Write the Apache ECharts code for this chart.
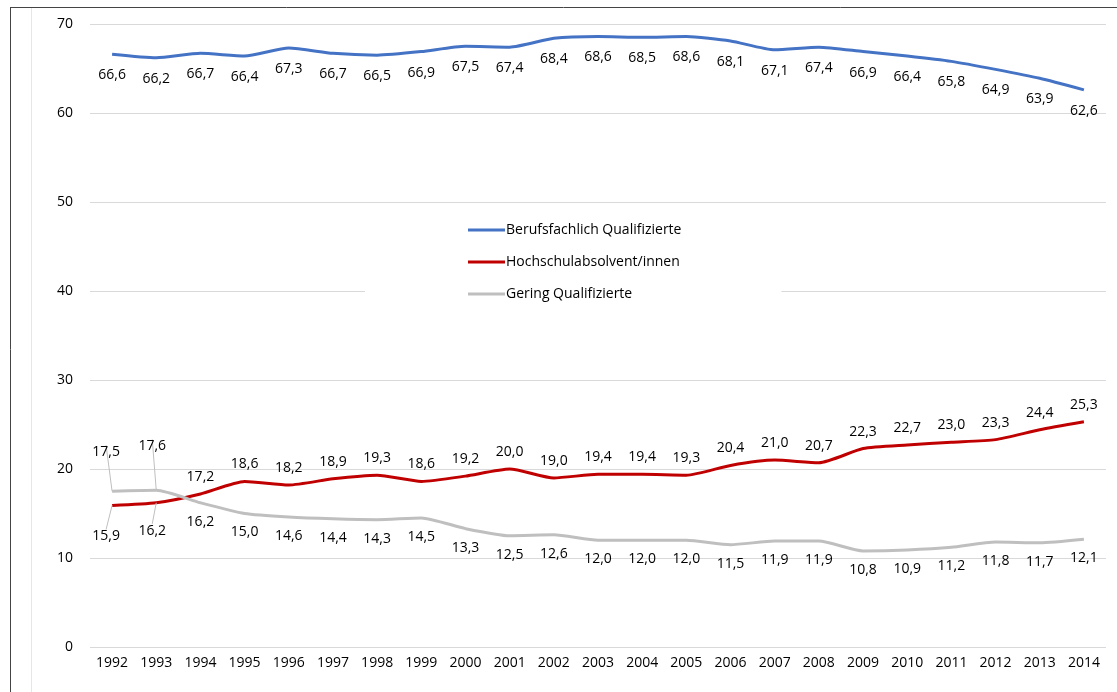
<!DOCTYPE html>
<html>
<head>
<meta charset="utf-8">
<script src="https://cdn.jsdelivr.net/npm/echarts@6/dist/echarts.min.js"></script>
<style>
  html, body { margin: 0; padding: 0; background: #fff; }
  #chart { width: 1117px; height: 692px; }
</style>
</head>
<body>
<div id="chart"></div>
<script>
const years = ["1992", "1993", "1994", "1995", "1996", "1997", "1998", "1999", "2000", "2001", "2002", "2003", "2004", "2005", "2006", "2007", "2008", "2009", "2010", "2011", "2012", "2013", "2014"];
const berufsfachlich = [66.6, 66.2, 66.7, 66.4, 67.3, 66.7, 66.5, 66.9, 67.5, 67.4, 68.4, 68.6, 68.5, 68.6, 68.1, 67.1, 67.4, 66.9, 66.4, 65.8, 64.9, 63.9, 62.6];
const hochschule = [15.9, 16.2, 17.2, 18.6, 18.2, 18.9, 19.3, 18.6, 19.2, 20.0, 19.0, 19.4, 19.4, 19.3, 20.4, 21.0, 20.7, 22.3, 22.7, 23.0, 23.3, 24.4, 25.3];
const gering = [17.5, 17.6, 16.2, 15.0, 14.6, 14.4, 14.3, 14.5, 13.3, 12.5, 12.6, 12.0, 12.0, 12.0, 11.5, 11.9, 11.9, 10.8, 10.9, 11.2, 11.8, 11.7, 12.1];

const font = "Open Sans";
const fmt = (p) => p.value.toFixed(1).replace(".", ",");

function labelStyle(position, distance) {
  return {
    show: true,
    position: position,
    distance: distance,
    formatter: fmt,
    color: "#000",
    fontSize: 14,
    fontFamily: font,
  };
}

// the first two labels of the crossing lines get a leader line
function withLeader(values) {
  return values.map((v, i) => (i < 2 ? { value: v, labelLine: { show: true } } : v));
}

const chart = echarts.init(document.getElementById("chart"));
chart.setOption({
  animation: false,
  textStyle: { fontFamily: font },
  grid: { left: 90, right: 11, top: 24, bottom: 45 },
  legend: {
    orient: "vertical",
    left: 365,
    top: 215,
    padding: [8, 100, 8, 103],
    backgroundColor: "#fff",
    itemWidth: 37,
    itemHeight: 3,
    itemGap: 18,
    icon: "rect",
    textStyle: { fontSize: 14, color: "#000", fontFamily: font, padding: [0, 0, 0, -4] },
    data: ["Berufsfachlich Qualifizierte", "Hochschulabsolvent/innen", "Gering Qualifizierte"],
  },
  xAxis: {
    type: "category",
    data: years,
    axisLine: { show: false },
    axisTick: { show: false },
    axisLabel: { color: "#000", fontSize: 14, margin: 9 },
  },
  yAxis: {
    type: "value",
    min: 0,
    max: 70,
    interval: 10,
    axisLabel: { color: "#000", fontSize: 14, margin: 17 },
    splitLine: { lineStyle: { color: "#D9D9D9", width: 1 } },
  },
  graphic: [
    { type: "line", shape: { x1: 10, y1: 7.5, x2: 1117, y2: 7.5 }, style: { stroke: "#444", lineWidth: 1 } },
    { type: "line", shape: { x1: 10.5, y1: 7, x2: 10.5, y2: 692 }, style: { stroke: "#444", lineWidth: 1 } },
    { type: "line", shape: { x1: 31.5, y1: 8, x2: 31.5, y2: 692 }, style: { stroke: "#E6E6E6", lineWidth: 1 } },
  ],
  series: [
    {
      name: "Berufsfachlich Qualifizierte",
      type: "line",
      data: berufsfachlich,
      smooth: 0.2,
      symbol: "circle",
      symbolSize: 0,
      lineStyle: { color: "#4472C4", width: 3 },
      itemStyle: { color: "#4472C4" },
      label: labelStyle("bottom", 14),
    },
    {
      name: "Hochschulabsolvent/innen",
      type: "line",
      data: withLeader(hochschule),
      smooth: 0.2,
      symbol: "circle",
      symbolSize: 0,
      lineStyle: { color: "#C00000", width: 3 },
      itemStyle: { color: "#C00000" },
      label: labelStyle("top", 10),
      labelLayout: (params) => {
        if (params.dataIndex < 2) {
          return { dx: params.dataIndex === 0 ? -6 : -4, dy: params.dataIndex === 0 ? 48 : 45 };
        }
        return {};
      },
      labelLine: { show: false, lineStyle: { color: "#BFBFBF", width: 1 } },
    },
    {
      name: "Gering Qualifizierte",
      type: "line",
      data: withLeader(gering),
      smooth: 0.2,
      symbol: "circle",
      symbolSize: 0,
      lineStyle: { color: "#BFBFBF", width: 3 },
      itemStyle: { color: "#BFBFBF" },
      label: labelStyle("bottom", 12),
      labelLayout: (params) => {
        if (params.dataIndex < 2) {
          return { dx: params.dataIndex === 0 ? -6 : -4, dy: params.dataIndex === 0 ? -58 : -63 };
        }
        return {};
      },
      labelLine: { show: false, lineStyle: { color: "#BFBFBF", width: 1 } },
    },
  ],
});
</script>
</body>
</html>
